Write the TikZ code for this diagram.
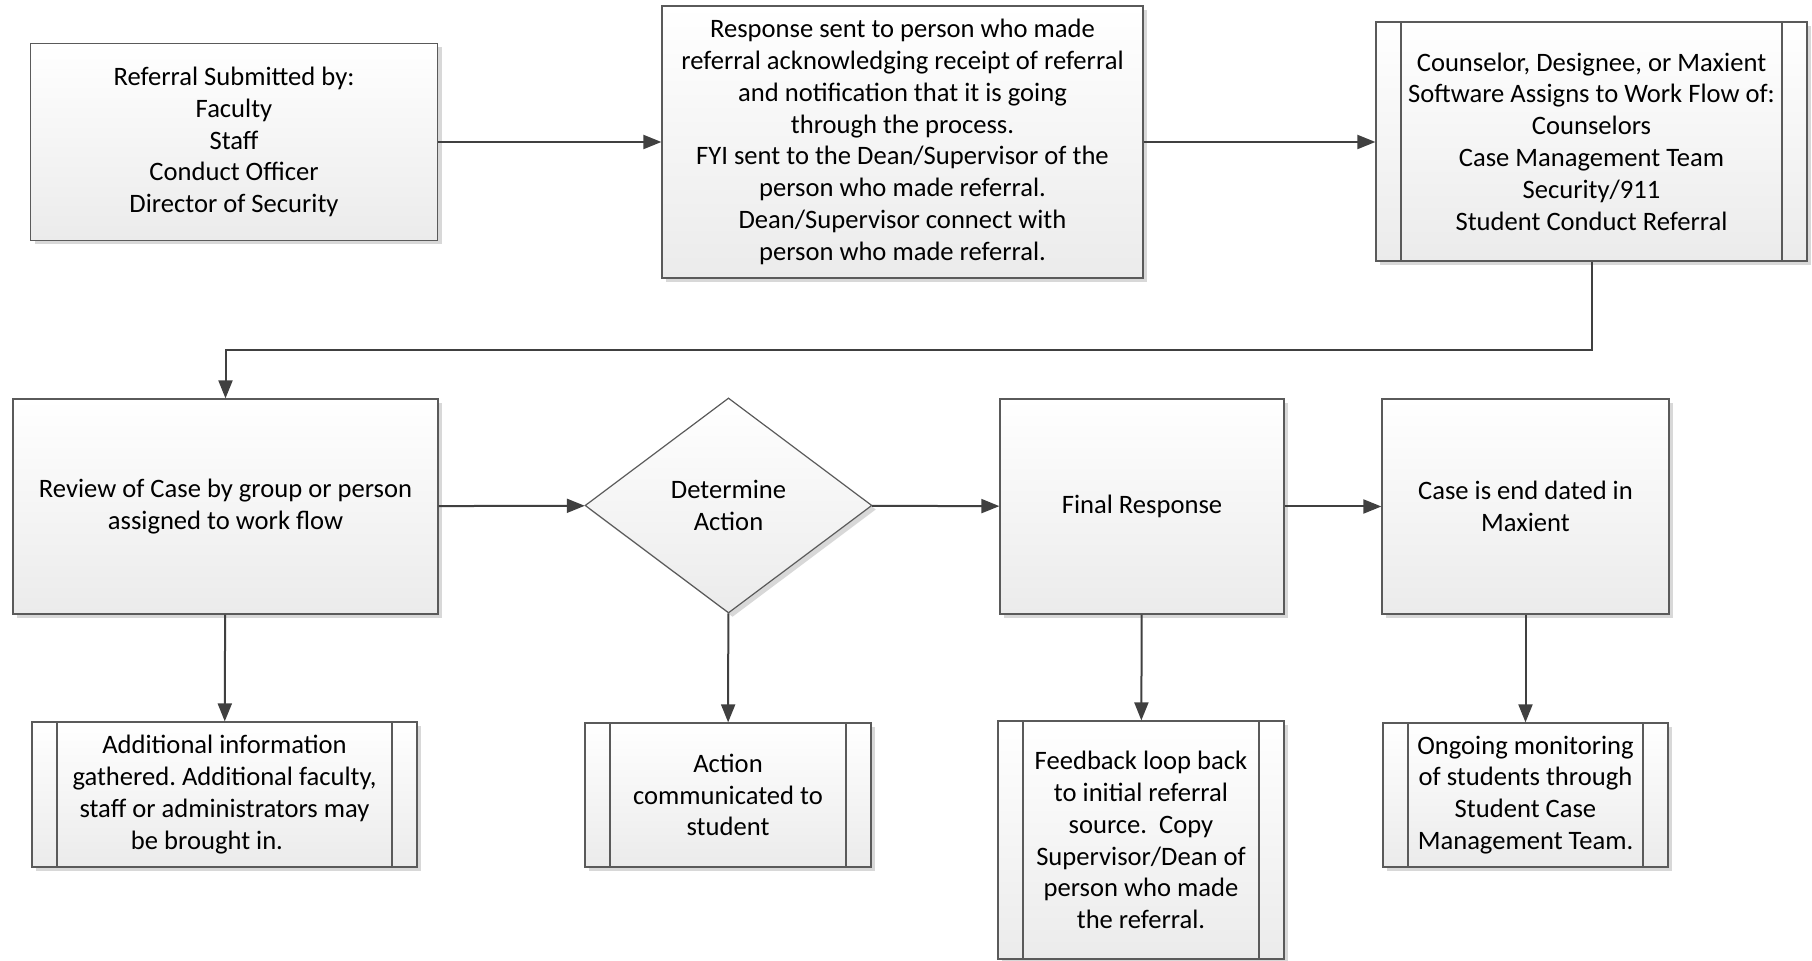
\documentclass[tikz,border=0pt]{standalone}
\usepackage{fontspec}
\setmainfont{Carlito}
\frenchspacing
\usetikzlibrary{arrows.meta,shapes.geometric,shadows}
\definecolor{bordercol}{HTML}{5A5A5A}
\definecolor{arrowcol}{HTML}{404040}
\definecolor{fillbot}{HTML}{EBEBEB}
\definecolor{shadowcol}{HTML}{D8D8D8}
\newcommand{\mainsz}{\fontsize{13.3pt}{15.9pt}\selectfont}
\tikzset{
  box/.style={draw=bordercol, line width=0.6pt, top color=white, bottom color=fillbot,
    drop shadow={shadow xshift=2pt, shadow yshift=-2pt, fill=shadowcol, opacity=1},
    align=center, inner sep=0pt, font=\mainsz, text=black},
  proc/.style={box, path picture={
    \draw[draw=bordercol,line width=0.6pt]
      ([xshift=12.5pt]path picture bounding box.north west) -- ([xshift=12.5pt]path picture bounding box.south west)
      ([xshift=-12.5pt]path picture bounding box.north east) -- ([xshift=-12.5pt]path picture bounding box.south east);}},
  decide/.style={box, diamond, aspect=1.33},
  flow/.style={draw=arrowcol, line width=1pt, -{Triangle[length=9pt,width=7pt]}}
}
\begin{document}
\begin{tikzpicture}[x=0.5pt,y=-0.5pt]
\useasboundingbox (0,0) rectangle (1812,961);
\node[box, minimum width=203.5pt, minimum height=98.5pt] (submit) at (234,142)
  {Referral Submitted by:\\Faculty\\Staff\\Conduct Officer\\Director of Security};
\node[box, minimum width=240.5pt, minimum height=136pt] (response) at (902.5,142)
  {Response sent to person who made\\referral acknowledging receipt of referral\\and notification that it is going\\through the process.\\FYI sent to the Dean/Supervisor of the\\person who made referral.\\Dean/Supervisor connect with\\person who made referral.};
\node[proc, minimum width=215.5pt, minimum height=119.5pt] (assign) at (1591.5,141.5)
  {Counselor, Designee, or Maxient\\Software Assigns to Work Flow of:\\Counselors\\Case Management Team\\Security/911\\Student Conduct Referral};
\node[box, minimum width=212.5pt, minimum height=107.5pt] (review) at (225.5,506.5)
  {Review of Case by group or person\\assigned to work flow};
\node[decide, minimum width=143.5pt, minimum height=107.5pt] (determine) at (728.5,505.5)
  {Determine\\Action};
\node[box, minimum width=142pt, minimum height=107.5pt] (final) at (1142,506.5)
  {Final Response};
\node[box, minimum width=143.5pt, minimum height=107.5pt] (enddate) at (1525.5,506.5)
  {Case is end dated in\\Maxient};
\node[proc, minimum width=192.5pt, minimum height=72.5pt] (additional) at (224.5,794.5)
  {Additional information\\gathered. Additional faculty,\\staff or administrators may\\be brought in.\hspace*{17.5pt}};
\node[proc, minimum width=143pt, minimum height=72pt] (communicated) at (728,795)
  {Action\\communicated to\\student};
\node[proc, minimum width=143pt, minimum height=119pt] (feedback) at (1141,840)
  {Feedback loop back\\to initial referral\\source.\ \ Copy\\Supervisor/Dean of\\person who made\\the referral.};
\node[proc, minimum width=142.5pt, minimum height=72pt] (monitor) at (1525.5,795)
  {Ongoing monitoring\\of students through\\Student Case\\Management Team.};
\coordinate (bendy) at (0,350);
\draw[flow] (submit) -- (response);
\draw[flow] (response.east) -- (response.east -| assign.west);
\draw[flow] (assign.south) -- (assign.south |- bendy) -| (review.north);
\draw[flow] (review) -- (determine);
\draw[flow] (determine) -- (final);
\draw[flow] (final) -- (enddate);
\draw[flow] (review) -- (additional);
\draw[flow] (determine) -- (communicated);
\draw[flow] (final) -- (feedback);
\draw[flow] (enddate) -- (monitor);
\end{tikzpicture}
\end{document}
